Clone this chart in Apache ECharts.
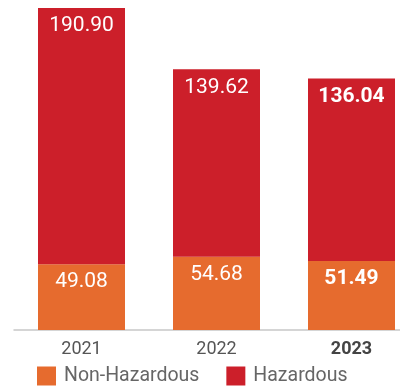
<!DOCTYPE html>
<html><head><meta charset="utf-8">
<script src="https://cdn.jsdelivr.net/npm/echarts@6/dist/echarts.min.js"></script>
<style>html,body{margin:0;padding:0;background:#fff}#c{width:400px;height:388px}</style>
</head><body><div id="c"></div>
<script>
var categories = ['2021', '2022', '2023'];
var nonHazardous = [49.08, 54.68, 51.49];
var hazardous = [190.90, 139.62, 136.04];
var boldIndex = 2;

var RED = '#CC1F2A', ORANGE = '#E66B2E';
function labelFmt(p){ return p.dataIndex === boldIndex ? '{b|' + p.value.toFixed(2) + '}' : p.value.toFixed(2); }
var labelCfg = {
  show: true, position: ['50%', 18], align: 'center', verticalAlign: 'middle',
  color: '#fff', fontFamily: 'Roboto', fontSize: 21, formatter: labelFmt,
  rich: { b: { color: '#fff', fontFamily: 'Roboto', fontSize: 21, fontWeight: 'bold' } }
};
var chart = echarts.init(document.getElementById('c'));
chart.setOption({
  animation: false,
  grid: { left: 14, right: -19, top: 8, bottom: 58, outerBoundsMode: 'none', containLabel: false },
  xAxis: {
    type: 'category', data: categories,
    axisLine: { lineStyle: { color: '#c8c8c8', width: 1.5 } },
    axisTick: { show: false },
    axisLabel: {
      margin: 10, fontFamily: 'Roboto', fontSize: 18, color: '#555',
      formatter: function(v, i){ return i === boldIndex ? '{b|' + v + '}' : v; },
      rich: { b: { fontFamily: 'Roboto', fontSize: 18, fontWeight: 'bold', color: '#444' } }
    }
  },
  yAxis: { type: 'value', min: 0, max: 240, show: false, splitLine: { show: false } },
  legend: {
    left: 37, top: 366, itemWidth: 19, itemHeight: 19, itemGap: 27, padding: 0,
    icon: 'rect',
    textStyle: { fontFamily: 'Roboto', fontSize: 19.5, color: '#666', padding: [0, 0, 0, 3] },
    data: ['Non-Hazardous', 'Hazardous']
  },
  series: [
    { name: 'Non-Hazardous', type: 'bar', stack: 't', data: nonHazardous, barWidth: 87,
      itemStyle: { color: ORANGE }, label: labelCfg },
    { name: 'Hazardous', type: 'bar', stack: 't', data: hazardous, barWidth: 87,
      itemStyle: { color: RED }, label: labelCfg }
  ]
});
</script></body></html>
